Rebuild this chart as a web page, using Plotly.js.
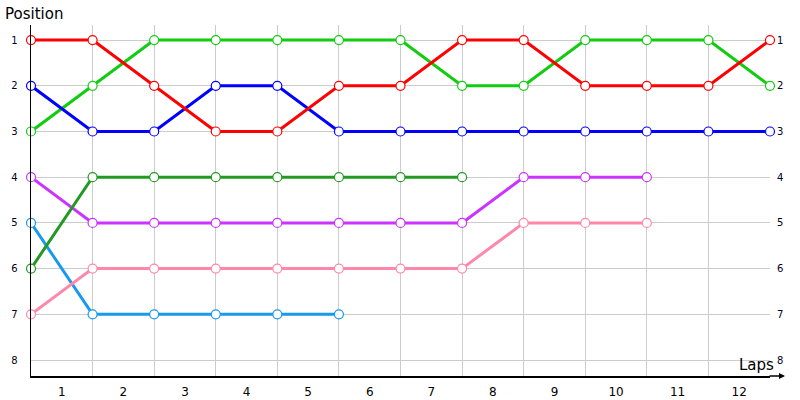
<!DOCTYPE html>
<html>
<head>
<meta charset="utf-8">
<script src="https://cdn.plot.ly/plotly-3.0.1.min.js"></script>
<style>
  body { margin: 0; background: #fff; }
  #chart { width: 800px; height: 400px; }
</style>
</head>
<body>
<div id="chart"></div>
<script>
// laps are drawn between the gridlines, positions sit on them
const lapLabels = ["1", "2", "3", "4", "5", "6", "7", "8", "9", "10", "11", "12"];
const positionLabels = [1, 2, 3, 4, 5, 6, 7, 8];

const redPos = [1, 1, 2, 3, 3, 2, 2, 1, 1, 2, 2, 2, 1];
const greenPos = [3, 2, 1, 1, 1, 1, 1, 2, 2, 1, 1, 1, 2];
const bluePos = [2, 3, 3, 2, 2, 3, 3, 3, 3, 3, 3, 3, 3];
const darkGreenPos = [6, 4, 4, 4, 4, 4, 4, 4];
const purplePos = [4, 5, 5, 5, 5, 5, 5, 5, 4, 4, 4];
const pinkPos = [7, 6, 6, 6, 6, 6, 6, 6, 5, 5, 5];
const lightBluePos = [5, 7, 7, 7, 7, 7];

// drawing order: last one ends up on top
const series = [
  { y: lightBluePos, color: "#1799ee" },
  { y: pinkPos, color: "#ff88aa" },
  { y: purplePos, color: "#cc33ff" },
  { y: darkGreenPos, color: "#229922" },
  { y: redPos, color: "#ff0000", yaxis: "y2" },
  { y: greenPos, color: "#11cc11" },
  { y: bluePos, color: "#0000ff" },
];

const data = series.map(s => ({
  x: s.y.map((_, i) => i),
  y: s.y,
  yaxis: s.yaxis || "y",
  type: "scatter",
  mode: "lines+markers",
  cliponaxis: false,
  line: { color: s.color, width: 3 },
  marker: {
    symbol: "circle",
    size: 9,
    color: "#ffffff",
    line: { color: s.color, width: 1.2 },
  },
  hoverinfo: "skip",
  showlegend: false,
}));

const font = "DejaVu Sans, Verdana, sans-serif";
const yRange = [8.35, 0.67];

const layout = {
  width: 800,
  height: 400,
  margin: { t: 25, l: 31, r: 30, b: 24 },
  paper_bgcolor: "#ffffff",
  plot_bgcolor: "#ffffff",
  showlegend: false,
  xaxis: {
    range: [0, 12],
    tickmode: "array",
    tickvals: lapLabels.map((_, i) => i + 0.5),
    ticktext: lapLabels,
    tickfont: { family: font, size: 12, color: "#000000" },
    ticks: "",
    ticklabelstandoff: 4,
    showgrid: false,
    minor: {
      tickmode: "array",
      tickvals: lapLabels.concat([""]).map((_, i) => i),
      showgrid: true,
      gridcolor: "#cccccc",
      gridwidth: 1,
      ticks: "",
    },
    zeroline: false,
    showline: true,
    linecolor: "#000000",
    linewidth: 1.5,
    fixedrange: true,
  },
  yaxis: {
    range: yRange,
    tickvals: positionLabels,
    ticktext: positionLabels.map(String),
    tickfont: { family: font, size: 10, color: "#000022" },
    ticks: "",
    ticklabelstandoff: 10,
    showgrid: true,
    gridcolor: "#cccccc",
    gridwidth: 1,
    zeroline: false,
    showline: true,
    linecolor: "#000000",
    linewidth: 1.5,
    fixedrange: true,
  },
  yaxis2: {
    overlaying: "y",
    side: "right",
    anchor: "x",
    range: yRange,
    tickvals: positionLabels,
    ticktext: positionLabels.map(String),
    tickfont: { family: font, size: 10, color: "#000022" },
    ticks: "",
    ticklabelstandoff: 6,
    showgrid: false,
    zeroline: false,
    showline: false,
  },
  annotations: [
    {
      text: "Position",
      xref: "paper", yref: "paper",
      x: 0, y: 1,
      xanchor: "left", yanchor: "bottom",
      xshift: -28, yshift: 0,
      showarrow: false,
      font: { family: font, size: 15, color: "#000000" },
    },
    {
      text: "Laps",
      xref: "paper", yref: "paper",
      x: 1, y: 0,
      xanchor: "right", yanchor: "bottom",
      xshift: 6, yshift: 0,
      showarrow: false,
      font: { family: font, size: 15, color: "#000000" },
    },
    {
      // arrow that carries the x axis past the last gridline
      text: "",
      xref: "paper", yref: "paper",
      x: 1, y: 0,
      xshift: 15,
      ax: -17, ay: 0,
      showarrow: true,
      arrowhead: 2,
      arrowsize: 0.8,
      arrowwidth: 1.5,
      arrowcolor: "#000000",
    },
  ],
};

Plotly.newPlot("chart", data, layout, { displayModeBar: false, staticPlot: true });
</script>
</body>
</html>
